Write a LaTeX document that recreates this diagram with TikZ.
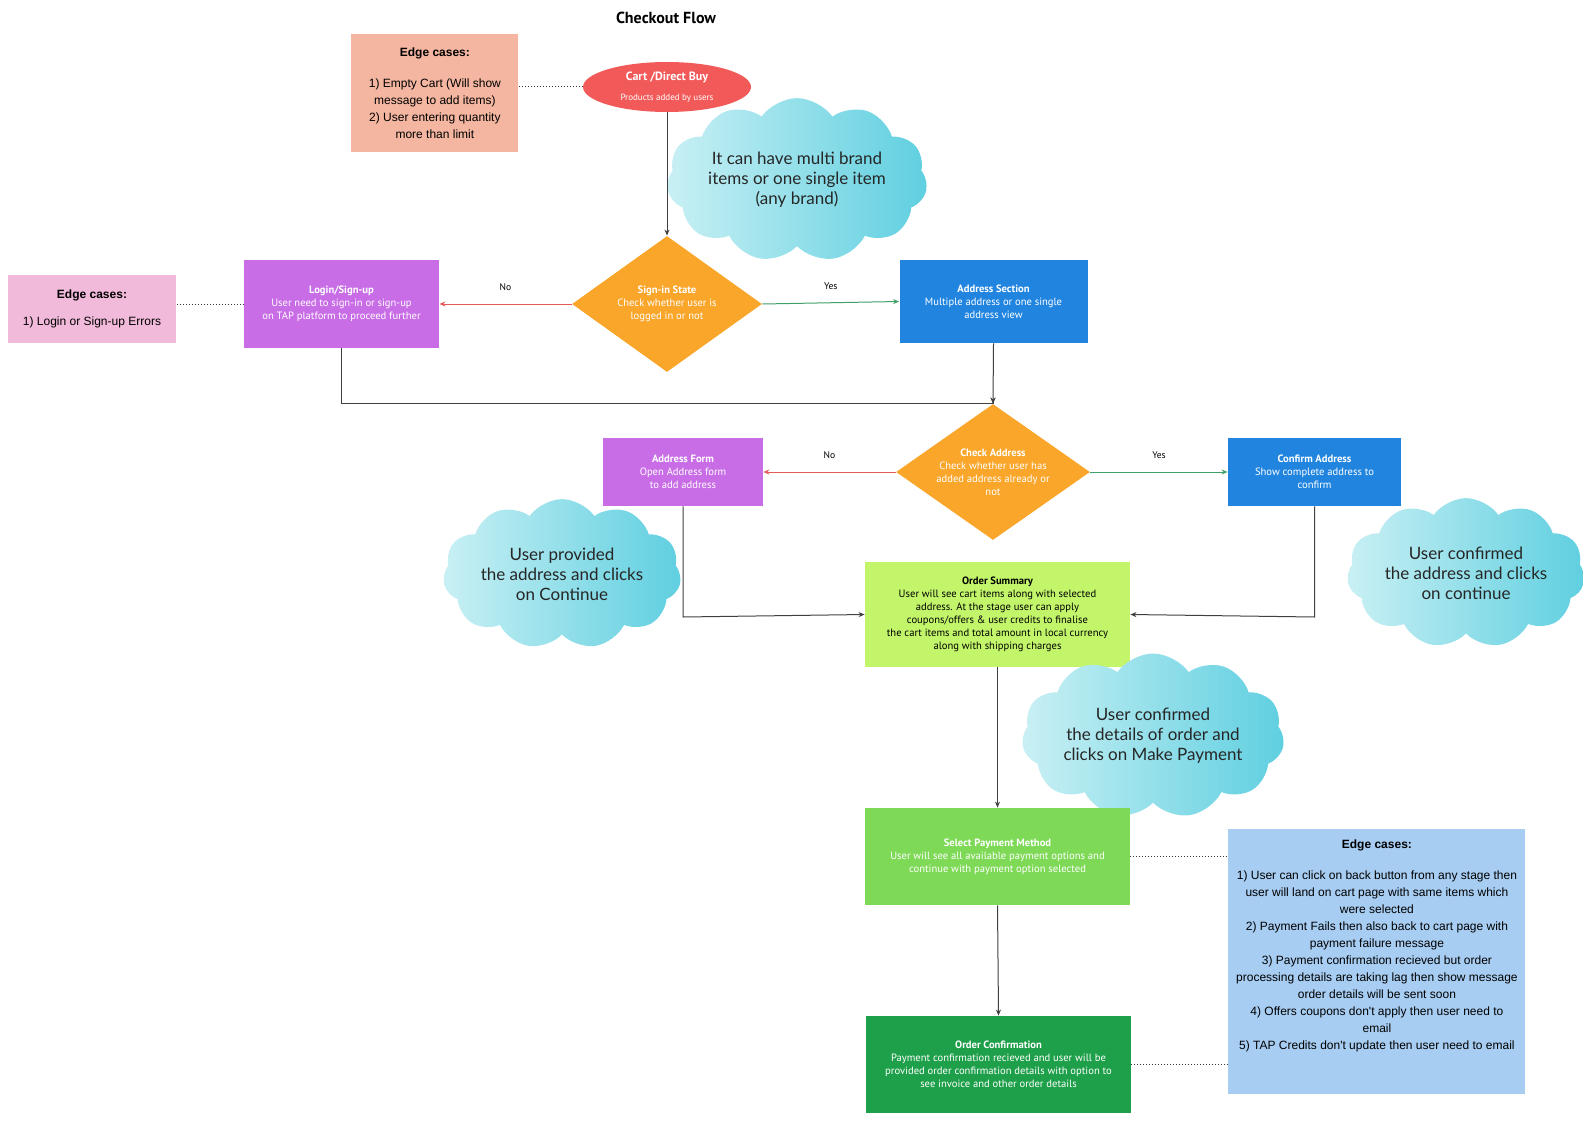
\documentclass[tikz,border=0pt]{standalone}
\usepackage{fontspec}
\setmainfont{PT Sans}
\newfontfamily\arialf{Liberation Sans}
\newfontfamily\cloudf{Lato}
\usetikzlibrary{shapes.geometric,shapes.symbols,arrows.meta}
\definecolor{salmon}{HTML}{F4B6A0}
\definecolor{pinkE}{HTML}{F2BADA}
\definecolor{blueE}{HTML}{A7CDF2}
\definecolor{redC}{HTML}{F25A5A}
\definecolor{orangeD}{HTML}{F9A62B}
\definecolor{purpleB}{HTML}{C86DE6}
\definecolor{blueB}{HTML}{2185E0}
\definecolor{limeB}{HTML}{C2F56A}
\definecolor{greenB}{HTML}{7ED957}
\definecolor{dgreenB}{HTML}{1E9F4A}
\definecolor{cloudL}{HTML}{C9F0F4}
\definecolor{cloudR}{HTML}{5FCFE0}
\definecolor{noRed}{HTML}{E85A5A}
\definecolor{yesGreen}{HTML}{3FA06A}
\begin{document}
\begin{tikzpicture}[x=0.5pt,y=-0.5pt,
  box/.style={draw=none,rectangle,align=center,inner sep=1pt,font=\fontsize{5.3}{6.5}\selectfont,text=white},
  edge/.style={draw=none,rectangle,align=center,inner sep=2pt,font=\arialf\fontsize{6}{8.5}\selectfont,text=black},
  dia/.style={draw=none,diamond,fill=orangeD,aspect=1.4,align=center,inner sep=0pt,font=\fontsize{5.3}{6.5}\selectfont,text=white},
  cl/.style={cloud,cloud puffs=11,cloud puff arc=110,aspect=1.9,left color=cloudL,right color=cloudR,draw=none,align=center,inner sep=0pt,font=\cloudf\fontsize{8.5}{10}\selectfont,text=black!85},
  arr/.style={draw=black!75,line width=0.5pt,-{Stealth[length=3pt,width=2.5pt]}},
  dot/.style={draw=black!80,line width=0.5pt,densely dotted},
  lab/.style={font=\fontsize{4.8}{5}\selectfont,text=black}]
\useasboundingbox (0,0) rectangle (1583,1134);
\node[font=\bfseries\fontsize{8}{9}\selectfont] (title) at (666,18) {Checkout Flow};

\node[edge,fill=salmon,minimum width=83.5pt,minimum height=59pt,anchor=north west] (e1) at (351,34) {\textbf{Edge cases:}\\[7pt]1) Empty Cart (Will show\\message to add items)\\2) User entering quantity\\more than limit};
\node[ellipse,fill=redC,minimum width=84pt,minimum height=25pt,inner sep=0pt,align=center,text=white] (cart) at (667,87) {{\bfseries\fontsize{6}{7}\selectfont Cart /Direct Buy}\\[-2pt]{\fontsize{4.5}{5}\selectfont Products added by users}};
\node[cl,minimum width=108pt,minimum height=58pt] (c1) at (797,180) {It can have multi brand\\items or one single item\\(any brand)};

\node[dia,minimum width=95pt,minimum height=68pt] (sign) at (667,304) {\textbf{Sign-in State}\\Check whether user is\\logged in or not};
\node[box,fill=purpleB,minimum width=97.5pt,minimum height=44pt] (login) at (341.5,304) {\textbf{Login/Sign-up}\\User need to sign-in or sign-up\\on TAP platform to proceed further};
\node[edge,fill=pinkE,minimum width=84pt,minimum height=34pt] (e2) at (92,308.5) {\textbf{Edge cases:}\\[5pt]1) Login or Sign-up Errors};
\node[box,fill=blueB,minimum width=94pt,minimum height=41.5pt] (addr) at (993.5,301.5) {\textbf{Address Section}\\Multiple address or one single\\address view};

\node[dia,minimum width=97pt,minimum height=68pt] (check) at (993,472) {\textbf{Check Address}\\Check whether user has\\added address already or\\not};
\node[box,fill=purpleB,minimum width=80pt,minimum height=34pt] (form) at (683,472) {\textbf{Address Form}\\Open Address form\\to add address};
\node[box,fill=blueB,minimum width=86.5pt,minimum height=34pt] (conf) at (1314.5,472) {\textbf{Confirm Address}\\Show complete address to\\confirm};

\node[box,fill=limeB,text=black,minimum width=132.5pt,minimum height=52.5pt] (sum) at (997.5,614.5) {\textbf{Order Summary}\\User will see cart items along with selected\\address. At the stage user can apply\\coupons/offers \& user credits to finalise\\the cart items and total amount in local currency\\along with shipping charges};
\node[cl,minimum width=95pt,minimum height=50pt] (c2) at (562,574) {User provided\\the address and clicks\\on Continue};
\node[cl,minimum width=95pt,minimum height=50pt] (c3) at (1466,573) {User confirmed\\the address and clicks\\on continue};
\node[cl,minimum width=118pt,minimum height=50pt] (c4) at (1153,736) {User confirmed\\the details of order and\\clicks on Make Payment};

\node[box,fill=greenB,minimum width=132.5pt,minimum height=48.5pt] (pay) at (997.5,856.5) {\textbf{Select Payment Method}\\User will see all available payment options and\\continue with payment option selected};
\node[box,fill=dgreenB,minimum width=132.5pt,minimum height=48.5pt] (oc) at (998.5,1064.5) {\textbf{Order Confirmation}\\Payment confirmation recieved and user will be\\provided order confirmation details with option to\\see invoice and other order details};
\node[edge,fill=blueE,minimum width=148.5pt,minimum height=132.5pt,anchor=north west,align=center] (e3) at (1228,829) {\begin{tabular}{@{}c@{}}\textbf{Edge cases:}\\[7pt]1) User can click on back button from any stage then\\user will land on cart page with same items which\\were selected\\2) Payment Fails then also back to cart page with\\payment failure message\\3) Payment confirmation recieved but order\\processing details are taking lag then show message\\order details will be sent soon\\4) Offers coupons don't apply then user need to\\email\\5) TAP Credits don't update then user need to email\\[16pt]\end{tabular}};

\draw[dot] (e1.east|-cart) -- (cart.west);
\draw[arr] (cart.south) -- (sign.north);
\draw[arr,draw=noRed] (sign.west) -- node[lab,above=3pt]{No} (login.east);
\draw[arr,draw=yesGreen] (sign.east) -- node[lab,above=3pt]{Yes} (addr.west);
\draw[dot] (login.west) -- (e2.east|-login);
\coordinate (j1) at (341.5,403);
\draw[arr] (login.south) -- (j1) -- (j1-|check.north) -- (check.north);
\draw[arr] (addr.south) -- (check.north);
\draw[arr,draw=noRed] (check.west) -- node[lab,above=3pt]{No} (form.east);
\draw[arr,draw=yesGreen] (check.east) -- node[lab,above=3pt]{Yes} (conf.west);
\draw[arr] (form.south) -- (683,617) -- (sum.west);
\draw[arr] (conf.south) -- (1314.5,617) -- (sum.east);
\draw[arr] (sum.south) -- (pay.north);
\draw[arr] (pay.south) -- (oc.north);
\draw[dot] (pay.east) -- (e3.west|-pay);
\draw[dot] (oc.east) -- (e3.west|-oc);
\end{tikzpicture}
\end{document}
